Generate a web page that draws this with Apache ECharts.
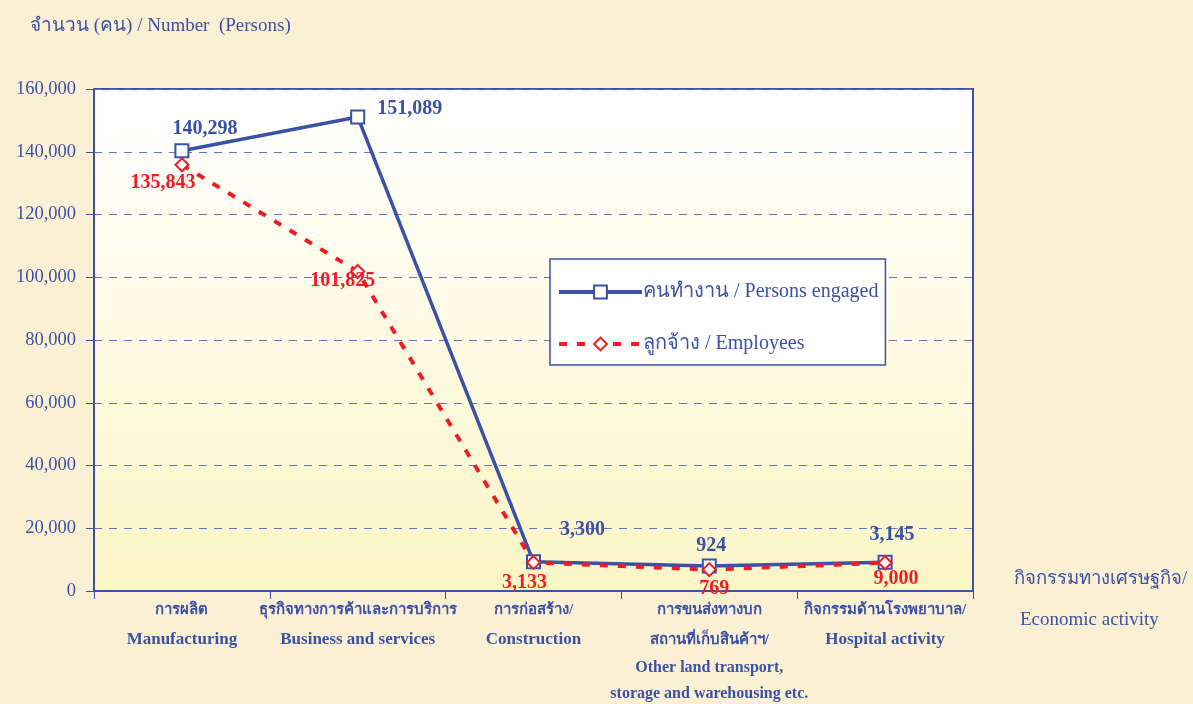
<!DOCTYPE html>
<html>
<head>
<meta charset="utf-8">
<script src="https://cdn.jsdelivr.net/npm/echarts@6/dist/echarts.min.js"></script>
<style>
html,body{margin:0;padding:0;background:#fbefd4;}
#c{width:1193px;height:704px;}
</style>
</head>
<body>
<div id="c"></div>
<script>
const categories = [
  'การผลิต\nManufacturing',
  'ธุรกิจทางการค้าและการบริการ\nBusiness and services',
  'การก่อสร้าง/\nConstruction',
  'การขนส่งทางบก\nสถานที่เก็บสินค้าฯ/\nOther land transport,\nstorage and warehousing etc.',
  'กิจกรรมด้านโรงพยาบาล/\nHospital activity'
];
const personsValues = [140298, 151089, 9300, 8000, 9200];
const employeesValues = [135843, 101825, 9100, 6800, 9000];
const personsLabels = ['140,298', '151,089', '3,300', '924', '3,145'];
const employeesLabels = ['135,843', '101,825', '3,133', '769', '9,000'];
const yTicks = [0, 20000, 40000, 60000, 80000, 100000, 120000, 140000, 160000];

const BLUE = '#3a52a6';
const RED = '#ee1c25';
const FONT = '"Liberation Serif", "Times New Roman", serif';

const pOff = [[23,-22],[52,-8],[49,-32],[2,-20],[7,-27]];
const eOff = [[-19,18],[-15,9],[-9,20],[5,19],[11,16]];

const thaiRe = /[\u0E00-\u0E7F]/;

const chart = echarts.init(document.getElementById('c'));
chart.setOption({
  backgroundColor: 'transparent',
  animation: false,
  textStyle: { fontFamily: FONT },
  title: {
    text: 'จำนวน (คน) / Number  (Persons)',
    left: 25, top: 12,
    textStyle: { fontFamily: FONT, fontSize: 19, fontWeight: 'normal', color: BLUE }
  },
  graphic: [
    { type: 'text', left: 1014, top: 570, style: { text: 'กิจกรรมทางเศรษฐกิจ/', font: '18.5px ' + FONT, fill: BLUE } },
    { type: 'text', left: 1020, top: 611, style: { text: 'Economic activity', font: '19px ' + FONT, fill: BLUE } }
  ],
  legend: {
    orient: 'vertical',
    left: 550, top: 259,
    padding: [23, 7, 11, 7],
    itemGap: 32,
    itemWidth: 83, itemHeight: 16,
    backgroundColor: '#ffffff',
    borderColor: BLUE, borderWidth: 1.5, borderRadius: 0,
    lineStyle: { width: 4 },
    textStyle: { fontFamily: FONT, fontSize: 20, color: BLUE, padding: [0, 0, 0, -4] },
    data: ['คนทำงาน / Persons engaged', 'ลูกจ้าง / Employees']
  },
  grid: {
    left: 94, right: 220, top: 89, bottom: 113,
    outerBoundsMode: 'none',
    containLabel: false,
    show: true,
    borderColor: BLUE, borderWidth: 2,
    backgroundColor: new echarts.graphic.LinearGradient(0, 0, 0, 1, [
      { offset: 0, color: '#ffffff' },
      { offset: 1, color: '#fbf5c6' }
    ])
  },
  xAxis: {
    type: 'category',
    data: categories,
    boundaryGap: true,
    axisLine: { lineStyle: { color: BLUE, width: 2 } },
    axisTick: { show: true, length: 8, lineStyle: { color: BLUE, width: 1 } },
    axisLabel: {
      interval: 0,
      margin: 4,
      color: BLUE,
      fontFamily: FONT,
      formatter: v => {
        const lines = v.split('\n');
        const small = lines.length > 2;
        return lines.map(s => (thaiRe.test(s) ? '{th|' : (small ? '{en2|' : '{en|')) + s + '}').join('\n');
      },
      rich: {
        th: { fontFamily: FONT, fontSize: 15, fontWeight: 'bold', color: BLUE, lineHeight: 30 },
        en: { fontFamily: FONT, fontSize: 17, fontWeight: 'bold', color: BLUE, lineHeight: 30 },
        en2: { fontFamily: FONT, fontSize: 16, fontWeight: 'bold', color: BLUE, lineHeight: 26 }
      }
    },
    splitLine: { show: false }
  },
  yAxis: {
    type: 'value',
    min: 0, max: 160000, interval: 20000,
    axisLine: { show: true, lineStyle: { color: BLUE, width: 2 } },
    axisTick: { show: true, length: 8, lineStyle: { color: BLUE } },
    axisLabel: {
      margin: 18,
      color: BLUE, fontFamily: FONT, fontSize: 18.5,
      formatter: v => yTicks.includes(v) ? v.toLocaleString('en-US') : ''
    },
    splitLine: { show: true, lineStyle: { color: '#6275c0', type: [8, 7], width: 1 } }
  },
  series: [
    {
      name: 'คนทำงาน / Persons engaged',
      type: 'line',
      data: personsValues.map((v, i) => ({
        value: v,
        label: { show: true, formatter: personsLabels[i], position: 'inside', offset: pOff[i] }
      })),
      symbol: 'rect', symbolSize: 13,
      itemStyle: { color: '#ffffff', borderColor: BLUE, borderWidth: 2 },
      lineStyle: { color: BLUE, width: 3.5 },
      label: { color: BLUE, fontFamily: FONT, fontSize: 20, fontWeight: 'bold' },
      z: 2
    },
    {
      name: 'ลูกจ้าง / Employees',
      type: 'line',
      data: employeesValues.map((v, i) => ({
        value: v,
        label: { show: true, formatter: employeesLabels[i], position: 'inside', offset: eOff[i] }
      })),
      symbol: 'diamond', symbolSize: 13,
      itemStyle: { color: '#ffffff', borderColor: RED, borderWidth: 2 },
      lineStyle: { color: RED, width: 4, type: [8, 10] },
      label: { color: RED, fontFamily: FONT, fontSize: 20, fontWeight: 'bold' },
      z: 3
    }
  ]
});
</script>
</body>
</html>
